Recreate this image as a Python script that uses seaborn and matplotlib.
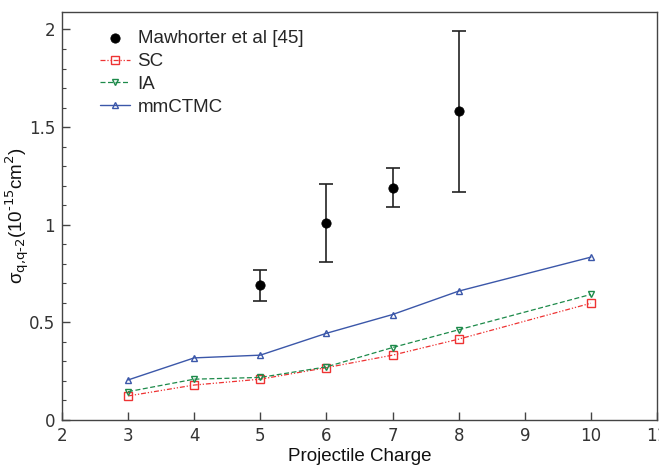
import numpy as np
import pandas as pd
import matplotlib
matplotlib.use("Agg")
import matplotlib.pyplot as plt
import seaborn as sns
from matplotlib.ticker import MultipleLocator

# Data
charge_exp = [5, 6, 7, 8]
sigma_exp = [0.69, 1.01, 1.19, 1.58]
err_exp = [0.08, 0.20, 0.10, 0.41]

charge_th = [3, 4, 5, 6, 7, 8, 10]
sigma_sc = [0.123, 0.179, 0.209, 0.268, 0.332, 0.414, 0.598]
sigma_ia = [0.145, 0.209, 0.218, 0.272, 0.371, 0.462, 0.643]
sigma_ctmc = [0.205, 0.318, 0.332, 0.444, 0.540, 0.660, 0.834]

sns.set_theme(style="white")
plt.rcParams['font.family'] = ['Liberation Sans', 'DejaVu Sans']

fig = plt.figure(figsize=(6.59, 4.68), dpi=100)
ax = fig.add_axes([0.094, 0.1026, 0.903, 0.872])

df_exp = pd.DataFrame({"q": charge_exp, "s": sigma_exp})
ax.errorbar(charge_exp, sigma_exp, yerr=err_exp, fmt='none', ecolor='#222222',
            elinewidth=1.2, capsize=5, capthick=1.2, zorder=3)
sns.scatterplot(data=df_exp, x="q", y="s", ax=ax, color='black', s=45,
                edgecolor='black', label='Mawhorter et al [45]', zorder=4)

df_sc = pd.DataFrame({"q": charge_th, "s": sigma_sc})
df_ia = pd.DataFrame({"q": charge_th, "s": sigma_ia})
df_ct = pd.DataFrame({"q": charge_th, "s": sigma_ctmc})

sns.lineplot(data=df_sc, x="q", y="s", ax=ax, color='#ee3333', lw=0.9,
             marker='s', markersize=5.5, markerfacecolor='none',
             markeredgecolor='#ee3333', markeredgewidth=1.0,
             dashes=False, label='SC')
ax.lines[-1].set_dashes([4, 1.5, 1, 1.5, 1, 1.5])

sns.lineplot(data=df_ia, x="q", y="s", ax=ax, color='#1d8a4a', lw=0.9,
             marker='v', markersize=5, markerfacecolor='none',
             markeredgecolor='#1d8a4a', markeredgewidth=1.0,
             label='IA')
ax.lines[-1].set_dashes([4, 2])

sns.lineplot(data=df_ct, x="q", y="s", ax=ax, color='#3b57a9', lw=1.0,
             marker='^', markersize=4.5, markerfacecolor='none',
             markeredgecolor='#3b57a9', markeredgewidth=1.0,
             label='mmCTMC')

ax.set_xlim(2, 11)
ax.set_ylim(0, 2.09)
ax.xaxis.set_major_locator(MultipleLocator(1))
ax.yaxis.set_minor_locator(MultipleLocator(0.1))
ax.set_yticks([0, 0.5, 1, 1.5, 2])
ax.set_yticklabels(['0', '0.5', '1', '1.5', '2'])

ax.tick_params(axis='both', which='major', direction='in', length=6, width=1,
               color='#444444', labelsize=12, labelcolor='#333333', pad=5)
ax.tick_params(axis='y', which='minor', direction='in', length=3, width=0.8,
               color='#444444', left=True)
ax.tick_params(axis='x', which='both', bottom=True)
ax.tick_params(axis='y', which='both', left=True)
for lab in ax.get_xticklabels() + ax.get_yticklabels():
    lab.set_family('DejaVu Sans')
for sp in ax.spines.values():
    sp.set_color('#444444')
    sp.set_linewidth(1.0)

ax.set_xlabel('Projectile Charge', fontsize=13.5, color='#111111', labelpad=2)
ax.set_ylabel('σ$_{\\text{q,q-2}}$(10$^{\\text{-15}}$cm$^{\\text{2}}$)',
              fontsize=13.5, color='#111111')
ax.yaxis.set_label_coords(-0.05, 0.5)

leg = ax.legend(loc='upper left', bbox_to_anchor=(0.064, 0.955), frameon=False,
                fontsize=13.5, handlelength=1.6, handletextpad=0.4,
                labelspacing=0.3, borderaxespad=0, borderpad=0)

fig.savefig('out.png', dpi=100)
